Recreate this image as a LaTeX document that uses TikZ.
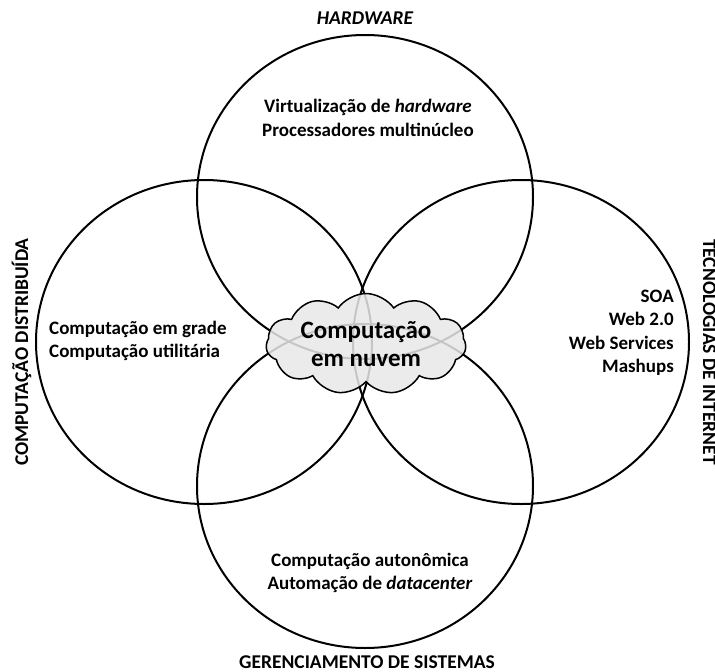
\documentclass[tikz,border=0pt]{standalone}
\usepackage{fontspec}
\setmainfont{Carlito}
\usetikzlibrary{shapes.symbols}
\begin{document}
\begin{tikzpicture}[x=1pt,y=-1pt,
  ring/.style={draw=black, line width=2pt},
  body/.style={font=\fontsize{19}{23.5}\selectfont\bfseries, inner sep=0pt},
  sidelabel/.style={font=\fontsize{19.5}{22}\selectfont\bfseries, inner sep=0pt},
  cloudbox/.style={cloud, cloud puffs=11, cloud puff arc=110, aspect=2.4,
    draw=black, line width=1.5pt, fill=gray!18, fill opacity=0.85, text opacity=1,
    minimum width=200pt, minimum height=80pt, inner sep=0pt,
    font=\fontsize{25}{28}\selectfont\bfseries, align=center},
]
\useasboundingbox (0,0) rectangle (715,672);

% the four overlapping areas
\draw[ring] (365,197) ellipse [x radius=168pt, y radius=162pt];
\draw[ring] (204,342) ellipse [x radius=168pt, y radius=162pt];
\draw[ring] (521,342) ellipse [x radius=168pt, y radius=162pt];
\draw[ring] (365,486) ellipse [x radius=168pt, y radius=162pt];

% the shared core
\node[cloudbox] (core) at (366,344) {Computação\\em nuvem};

% topics inside each area
\node[body, align=center] (hw) at (368,118)
  {Virtualização de \textit{hardware}\\Processadores multinúcleo};
\node[body, align=left, anchor=west] (dist) at (49,341)
  {Computação em grade\\Computação utilitária};
\node[body, align=right, anchor=east] (web) at (674,333)
  {SOA\\Web 2.0\\Web Services\\Mashups};
\node[body, align=center] (mgmt) at (370,573)
  {Computação autonômica\\Automação de \textit{datacenter}};

% area titles
\node[sidelabel, font=\fontsize{19.5}{22}\selectfont\bfseries\itshape] (thw) at (365,18) {HARDWARE};
\node[sidelabel] (tmgmt) at (367,662) {GERENCIAMENTO DE SISTEMAS};
\node[sidelabel, rotate=90, anchor=base] (tdist) at (28,352) {COMPUTAÇÃO DISTRIBUÍDA};
\node[sidelabel, rotate=-90, anchor=base] (tweb) at (703,352) {TECNOLOGIAS DE INTERNET};
\end{tikzpicture}
\end{document}
